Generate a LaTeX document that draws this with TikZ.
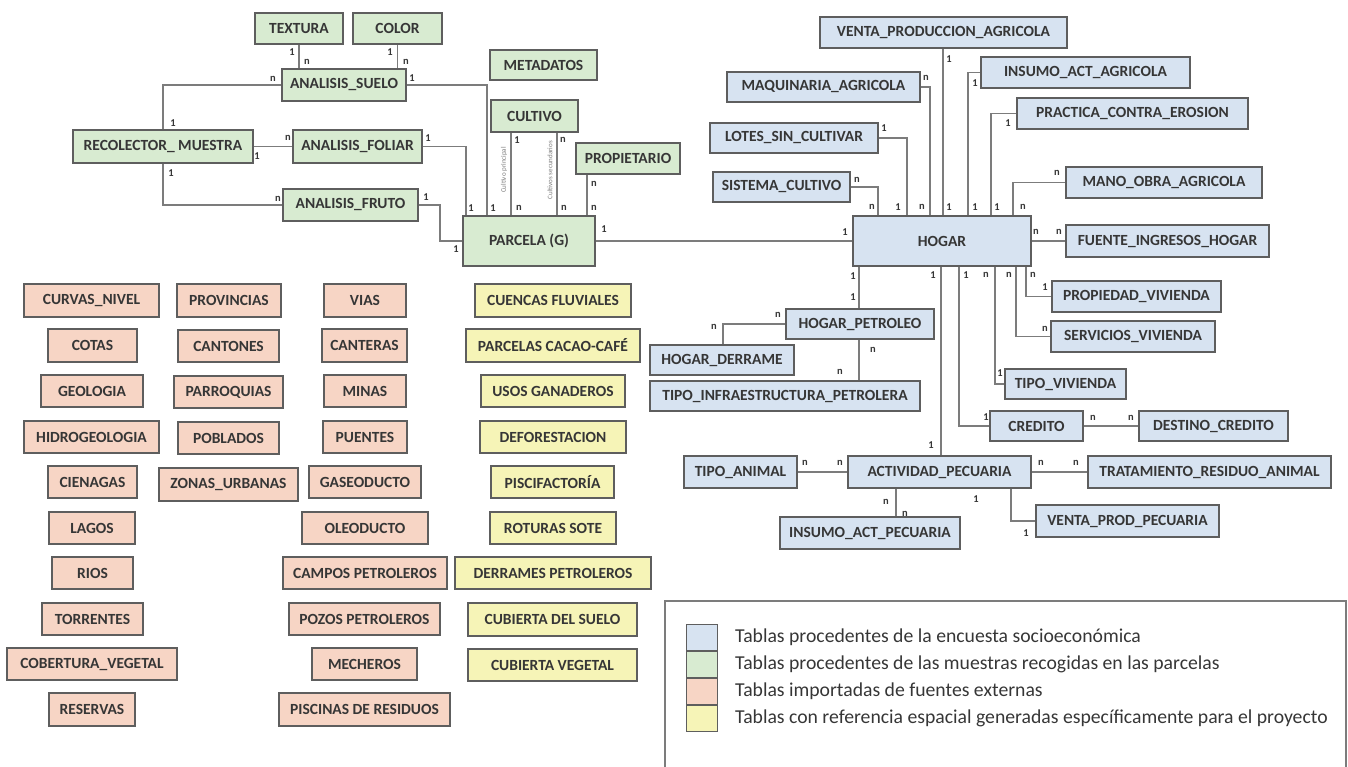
\documentclass[tikz,border=0pt]{standalone}
\usepackage{fontspec}
\setmainfont{Carlito}
\definecolor{gfill}{HTML}{D8EBD1}
\definecolor{bfill}{HTML}{D7E3F1}
\definecolor{sfill}{HTML}{F7D5C5}
\definecolor{yfill}{HTML}{F6F4B7}
\definecolor{bord}{HTML}{5E5E5E}
\definecolor{lgray}{HTML}{7C7C7C}
\definecolor{txt}{HTML}{363636}
\tikzset{
  tbl/.style={draw=bord, line width=1.6pt, inner sep=0pt, text=txt,
    font=\bfseries\fontsize{15.5}{17}\selectfont},
  gtb/.style={tbl, fill=gfill},
  btb/.style={tbl, fill=bfill},
  stb/.style={tbl, fill=sfill},
  ytb/.style={tbl, fill=yfill},
  conn/.style={draw=lgray, line width=1.5pt},
  lab/.style={text=txt, inner sep=0pt, font=\bfseries\fontsize{10.5}{11}\selectfont},
  rot/.style={text=lgray, inner sep=0pt, rotate=90, font=\fontsize{7}{8}\selectfont},
  swatch/.style={draw=bord, line width=1pt, minimum width=31pt, minimum height=26pt, inner sep=0pt},
  legtxt/.style={anchor=west, inner sep=0pt, text=txt, font=\fontsize{19.7}{21}\selectfont}
}
\newcommand\tb[7]{\node[#1, minimum width={(#6-#4)*1pt}, minimum height={(#7-#5)*1pt}] (#2) at ({(#4+#6)/2},{(#5+#7)/2}) {#3};}
\newcommand\lb[2]{\node[lab] at (#1) {#2};}
\begin{document}
\begin{tikzpicture}[x=1pt,y=-1pt]
\useasboundingbox (0,0) rectangle (1348,767);
% helper x positions
\foreach \xx in {440,466,487,511,557,587,723,859,878,896,907,930,941,943,959,968,991,995,1011,1013,1016,1026}
  {\coordinate (c\xx) at (\xx,0);}
% ---------- green tables
\tb{gtb}{textura}{TEXTURA}{255}{13}{343}{44}
\tb{gtb}{color}{COLOR}{353}{13}{442}{44}
\tb{gtb}{suelo}{ANALISIS\_SUELO}{282}{69}{406}{101}
\tb{gtb}{metadatos}{METADATOS}{490}{50}{597}{80}
\tb{gtb}{cultivo}{CULTIVO}{491}{100}{578}{132}
\tb{gtb}{recol}{RECOLECTOR\_ MUESTRA}{73}{130}{253}{163}
\tb{gtb}{foliar}{ANALISIS\_FOLIAR}{293}{130}{422}{163}
\tb{gtb}{propietario}{PROPIETARIO}{576}{143}{680}{174}
\tb{gtb}{fruto}{ANALISIS\_FRUTO}{283}{189}{418}{221}
\tb{gtb}{parcela}{PARCELA (G)}{463}{216}{595}{266}
% ---------- blue tables
\tb{btb}{ventaprod}{VENTA\_PRODUCCION\_AGRICOLA}{820}{17}{1067}{48}
\tb{btb}{maquinaria}{MAQUINARIA\_AGRICOLA}{727}{72}{920}{102}
\tb{btb}{insumo}{INSUMO\_ACT\_AGRICOLA}{981}{57}{1190}{88}
\tb{btb}{lotes}{LOTES\_SIN\_CULTIVAR}{710}{123}{878}{153}
\tb{btb}{practica}{PRACTICA\_CONTRA\_EROSION}{1017}{98}{1248}{129}
\tb{btb}{siscult}{SISTEMA\_CULTIVO}{713}{172}{850}{202}
\tb{btb}{manoobra}{MANO\_OBRA\_AGRICOLA}{1066}{167}{1262}{198}
\tb{btb}{hogar}{HOGAR}{853}{216}{1031}{266}
\tb{btb}{fuente}{FUENTE\_INGRESOS\_HOGAR}{1066}{225}{1269}{257}
\tb{btb}{propiedad}{PROPIEDAD\_VIVIENDA}{1052}{281}{1221}{312}
\tb{btb}{hogpet}{HOGAR\_PETROLEO}{786}{309}{934}{339}
\tb{btb}{servicios}{SERVICIOS\_VIVIENDA}{1051}{321}{1215}{352}
\tb{btb}{derrame}{HOGAR\_DERRAME}{650}{345}{794}{375}
\tb{btb}{tipoviv}{TIPO\_VIVIENDA}{1005}{369}{1126}{399}
\tb{btb}{tipoinfra}{TIPO\_INFRAESTRUCTURA\_PETROLERA}{650}{381}{920}{411}
\tb{btb}{credito}{CREDITO}{990}{411}{1083}{441}
\tb{btb}{destino}{DESTINO\_CREDITO}{1139}{411}{1288}{441}
\tb{btb}{tipoanimal}{TIPO\_ANIMAL}{684}{456}{797}{488}
\tb{btb}{actividad}{ACTIVIDAD\_PECUARIA}{848}{456}{1031}{488}
\tb{btb}{tratamiento}{TRATAMIENTO\_RESIDUO\_ANIMAL}{1088}{456}{1331}{488}
\tb{btb}{ventapec}{VENTA\_PROD\_PECUARIA}{1036}{505}{1219}{537}
\tb{btb}{insumopec}{INSUMO\_ACT\_PECUARIA}{780}{517}{960}{549}
% ---------- salmon tables
\tb{stb}{curvas}{CURVAS\_NIVEL}{24}{284}{159}{317}
\tb{stb}{cotas}{COTAS}{48}{329}{137}{362}
\tb{stb}{geologia}{GEOLOGIA}{41}{375}{143}{407}
\tb{stb}{hidro}{HIDROGEOLOGIA}{24}{421}{159}{453}
\tb{stb}{cienagas}{CIENAGAS}{48}{466}{137}{498}
\tb{stb}{lagos}{LAGOS}{49}{512}{135}{544}
\tb{stb}{rios}{RIOS}{52}{557}{133}{589}
\tb{stb}{torrentes}{TORRENTES}{42}{603}{143}{635}
\tb{stb}{cobertura}{COBERTURA\_VEGETAL}{7}{648}{177}{680}
\tb{stb}{reservas}{RESERVAS}{49}{693}{135}{726}
\tb{stb}{provincias}{PROVINCIAS}{177}{284}{281}{317}
\tb{stb}{cantones}{CANTONES}{178}{330}{279}{362}
\tb{stb}{parroquias}{PARROQUIAS}{174}{376}{283}{408}
\tb{stb}{poblados}{POBLADOS}{178}{422}{279}{454}
\tb{stb}{zonas}{ZONAS\_URBANAS}{159}{468}{298}{501}
\tb{stb}{vias}{VIAS}{324}{284}{406}{317}
\tb{stb}{canteras}{CANTERAS}{322}{329}{407}{362}
\tb{stb}{minas}{MINAS}{324}{375}{406}{407}
\tb{stb}{puentes}{PUENTES}{323}{421}{407}{453}
\tb{stb}{gaseoducto}{GASEODUCTO}{309}{466}{421}{498}
\tb{stb}{oleoducto}{OLEODUCTO}{302}{512}{428}{544}
\tb{stb}{campos}{CAMPOS PETROLEROS}{283}{557}{447}{589}
\tb{stb}{pozos}{POZOS PETROLEROS}{289}{603}{440}{635}
\tb{stb}{mecheros}{MECHEROS}{312}{648}{417}{680}
\tb{stb}{piscinas}{PISCINAS DE RESIDUOS}{279}{693}{450}{726}
% ---------- yellow tables
\tb{ytb}{cuencas}{CUENCAS FLUVIALES}{475}{284}{631}{317}
\tb{ytb}{cacao}{PARCELAS CACAO-CAFÉ}{466}{329}{640}{362}
\tb{ytb}{usos}{USOS GANADEROS}{481}{375}{625}{407}
\tb{ytb}{defo}{DEFORESTACION}{480}{421}{626}{453}
\tb{ytb}{pisci}{PISCIFACTORÍA}{491}{466}{614}{498}
\tb{ytb}{roturas}{ROTURAS SOTE}{490}{512}{616}{544}
\tb{ytb}{derrames}{DERRAMES PETROLEROS}{455}{557}{651}{589}
\tb{ytb}{cubsuelo}{CUBIERTA DEL SUELO}{468}{603}{637}{636}
\tb{ytb}{cubveg}{CUBIERTA VEGETAL}{468}{649}{637}{681}
% ---------- green connectors
\draw[conn] (textura.south) -- (suelo.north -| textura.south);
\draw[conn] (color.south) -- (suelo.north -| color.south);
\draw[conn] (suelo.west) -| (recol.north);
\draw[conn] (recol.east) -- (foliar.west);
\draw[conn] (recol.south) |- (fruto.west);
\draw[conn] (suelo.east) -| (parcela.north -| c487);
\draw[conn] (foliar.east) -| (parcela.north -| c466);
\draw[conn] (fruto.east) -| (c440 |- parcela.west) -- (parcela.west);
\draw[conn] (cultivo.south -| c511) -- (parcela.north -| c511);
\draw[conn] (cultivo.south -| c557) -- (parcela.north -| c557);
\draw[conn] (propietario.south -| c587) -- (parcela.north -| c587);
\draw[conn] (parcela.east) -- (hogar.west |- parcela.east);
\node[rot] at (504,170) {Cultivo principal};
\node[rot] at (550,170) {Cultivos secundarios};
% green labels
\lb{292,52}{1} \lb{307,62}{n}
\lb{390,52}{1} \lb{406,62}{n}
\lb{273,79}{n} \lb{173,123}{1}
\lb{257,156}{1} \lb{288,138}{n}
\lb{171,173}{1} \lb{278,199}{n}
\lb{412,78}{1} \lb{493,208}{1}
\lb{428,138}{1} \lb{471,208}{1}
\lb{426,197}{1} \lb{456,249}{1}
\lb{517,140}{1} \lb{519,208}{n}
\lb{563,140}{n} \lb{564,208}{n}
\lb{594,184}{n} \lb{594,208}{n}
\lb{604,229}{1} \lb{845,232}{1}
% ---------- blue connectors
\draw[conn] (siscult.east) -| (hogar.north -| c878);
\draw[conn] (lotes.east) -| (hogar.north -| c907);
\draw[conn] (maquinaria.east) -| (hogar.north -| c930);
\draw[conn] (ventaprod.south -| c943) -- (hogar.north -| c943);
\draw[conn] (insumo.west) -| (hogar.north -| c968);
\draw[conn] (practica.west) -| (hogar.north -| c991);
\draw[conn] (manoobra.west) -| (hogar.north -| c1013);
\draw[conn] (hogar.east) -- (fuente.west);
\draw[conn] (hogar.south -| c1026) |- (propiedad.west);
\draw[conn] (hogar.south -| c1016) |- (servicios.west);
\draw[conn] (hogar.south -| c995) |- (tipoviv.west);
\draw[conn] (hogar.south -| c959) |- (credito.west);
\draw[conn] (credito.east) -- (destino.west);
\draw[conn] (hogar.south -| c941) -- (actividad.north -| c941);
\draw[conn] (hogar.south -| c859) -- (hogpet.north -| c859);
\draw[conn] (hogpet.west) -| (derrame.north -| c723);
\draw[conn] (hogpet.south -| c859) -- (tipoinfra.north -| c859);
\draw[conn] (tipoanimal.east) -- (actividad.west);
\draw[conn] (actividad.east) -- (tratamiento.west);
\draw[conn] (actividad.south -| c896) -- (insumopec.north -| c896);
\draw[conn] (actividad.south -| c1011) |- (ventapec.west);
% blue labels
\lb{857,180}{n} \lb{872,207}{n}
\lb{884,128}{1} \lb{898,207}{1}
\lb{926,78}{n} \lb{922,207}{n}
\lb{949,59}{1} \lb{949,207}{1}
\lb{975,83}{1} \lb{975,207}{1}
\lb{1008,123}{1} \lb{997,207}{1}
\lb{1057,173}{n} \lb{1023,207}{n}
\lb{1036,232}{n} \lb{1059,232}{n}
\lb{933,275}{1} \lb{966,275}{1} \lb{986,275}{n} \lb{1009,275}{n} \lb{1033,275}{n}
\lb{1045,287}{1}
\lb{1045,329}{n}
\lb{1000,373}{1}
\lb{986,417}{1}
\lb{1093,418}{n} \lb{1131,418}{n}
\lb{931,445}{1}
\lb{853,276}{1} \lb{853,297}{1}
\lb{778,315}{n} \lb{714,327}{n}
\lb{873,350}{n} \lb{840,372}{n}
\lb{805,463}{n} \lb{840,463}{n}
\lb{1041,463}{n} \lb{1076,463}{n}
\lb{886,502}{n} \lb{905,514}{n}
\lb{976,499}{1} \lb{1026,533}{1}
% ---------- legend
\draw[draw=lgray, line width=1.5pt] (665,767) -- (665,601) -- (1346,601) -- (1346,767);
\node[swatch, fill=bfill] (sw1) at (701.5,637.5) {};
\node[swatch, fill=gfill] (sw2) at (701.5,664.5) {};
\node[swatch, fill=sfill] (sw3) at (701.5,691.5) {};
\node[swatch, fill=yfill] (sw4) at (701.5,718.5) {};
\node[legtxt] (lt1) at (735,637) {Tablas procedentes de la encuesta socioeconómica};
\node[legtxt] (lt2) at (735,664) {Tablas procedentes de las muestras recogidas en las parcelas};
\node[legtxt] (lt3) at (735,691) {Tablas importadas de fuentes externas};
\node[legtxt] (lt4) at (735,718) {Tablas con referencia espacial generadas específicamente para el proyecto};
\end{tikzpicture}
\end{document}
